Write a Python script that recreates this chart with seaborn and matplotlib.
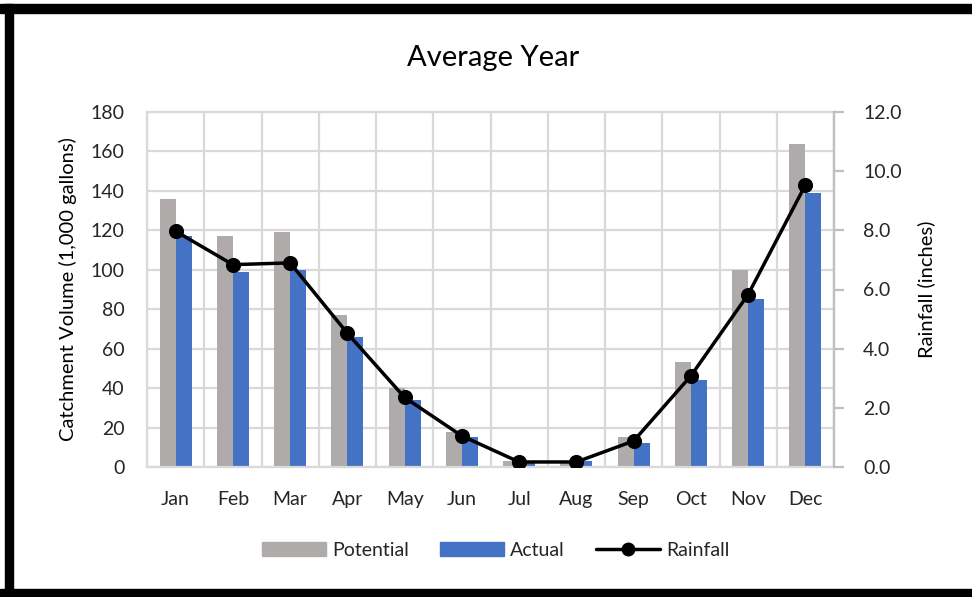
import numpy as np
import pandas as pd
import matplotlib.pyplot as plt
import seaborn as sns
from matplotlib.patches import Rectangle, Patch
from matplotlib.lines import Line2D

months    = ["Jan", "Feb", "Mar", "Apr", "May", "Jun",
             "Jul", "Aug", "Sep", "Oct", "Nov", "Dec"]
potential = [136, 117, 119, 77, 40, 18, 3, 3, 15, 53, 100, 164]
actual    = [117, 99, 100, 66, 34, 15, 2, 3, 12, 44, 85, 139]
rainfall  = [7.97, 6.84, 6.9, 4.52, 2.35, 1.05, 0.17, 0.17, 0.88, 3.08, 5.83, 9.53]

GRAY  = "#AFABAB"
BLUE  = "#4472C4"
GRID  = "#D9D9D9"
TEXT  = "#262626"

sns.set_style("white")
plt.rcParams["font.family"] = ["Lato", "DejaVu Sans"]

df = pd.DataFrame({"month": months * 2,
                   "volume": potential + actual,
                   "series": ["Potential"] * 12 + ["Actual"] * 12})

fig = plt.figure(figsize=(9.72, 5.97), dpi=100)
ax = fig.add_axes([147 / 972, 1 - 467 / 597, (834 - 147) / 972, (467 - 112) / 597])

sns.barplot(data=df, x="month", y="volume", hue="series", ax=ax,
            palette=[GRAY, BLUE], width=0.56, gap=0, saturation=1,
            legend=False, zorder=2, linewidth=0, edgecolor="none")
ax.set_ylim(0, 180)
ax.set_xlim(-0.5, 11.5)
ax.set_yticks(np.arange(0, 181, 20))
ax.set_xticks(np.arange(-0.5, 12, 1), minor=True)
ax.grid(axis="y", which="major", color=GRID, lw=1.6, zorder=0)
ax.grid(axis="x", which="minor", color=GRID, lw=1.6, zorder=0)
ax.grid(axis="x", which="major", visible=False)
ax.set_axisbelow(True)
ax.tick_params(which="both", length=0, labelsize=14, colors=TEXT)
ax.tick_params(axis="x", pad=17)
ax.tick_params(axis="y", pad=16)
for s in ax.spines.values():
    s.set_color(GRID)
    s.set_linewidth(1.6)
ax.set_xlabel("")
ax.set_ylabel("Catchment Volume (1,000 gallons)", fontsize=14.5, color="black", labelpad=10)

ax2 = ax.twinx()
sns.pointplot(x=months, y=rainfall, ax=ax2, color="black",
              markers="o", markersize=9, linewidth=2.5)
ax2.set_ylim(0, 12)
ax2.set_xlim(-0.5, 11.5)
ax2.set_yticks(np.arange(0, 12.1, 2))
ax2.set_yticklabels([f"{v:.1f}" for v in np.arange(0, 12.1, 2)])
ax2.tick_params(axis="y", length=7, width=1.6, color="#BFBFBF", labelsize=14,
                colors=TEXT, pad=14)
ax2.tick_params(axis="y", color="#BFBFBF")
ax2.set_ylabel("Rainfall (inches)", fontsize=14.5, color="black", labelpad=11)
for s in ax2.spines.values():
    s.set_visible(False)
ax2.spines["right"].set_visible(True)
ax2.spines["right"].set_color("#BFBFBF")
ax2.spines["right"].set_linewidth(1.6)
ax2.grid(False)

fig.text(0.507, 1 - 58 / 597, "Average Year", ha="center", va="center",
         fontsize=21, color="black")

handles = [Patch(color=GRAY, label="Potential"),
           Patch(color=BLUE, label="Actual"),
           Line2D([0], [0], color="black", lw=2.5, marker="o", markersize=9,
                  label="Rainfall")]
leg = fig.legend(handles=handles, loc="center", bbox_to_anchor=(0.510, 1 - 550 / 597),
                 ncol=3, frameon=False, fontsize=14, handlelength=3.3,
                 handleheight=0.75, columnspacing=1.6, handletextpad=0.3)
for t in leg.get_texts():
    t.set_color(TEXT)

# black frame on top, left and bottom edges
fig.patches.append(Rectangle((0, 1 - 13 / 597), 1, 9 / 597, transform=fig.transFigure,
                             color="black", zorder=10))
fig.patches.append(Rectangle((5 / 972, 0), 8 / 972, 1 - 4 / 597, transform=fig.transFigure,
                             color="black", zorder=10))
fig.patches.append(Rectangle((0, 0), 1, 8 / 597, transform=fig.transFigure,
                             color="black", zorder=10))

fig.savefig("out.png", dpi=100)
